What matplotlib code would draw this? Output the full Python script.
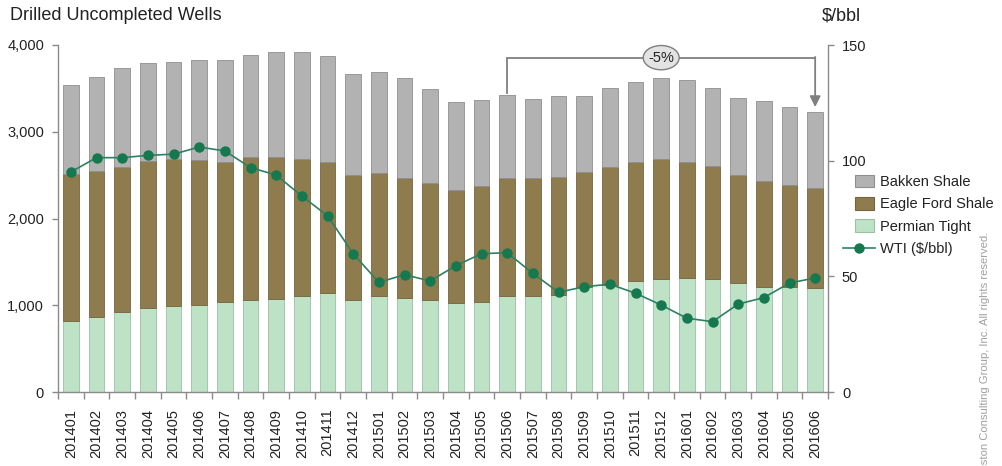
import matplotlib
matplotlib.use("Agg")
import matplotlib.pyplot as plt
from matplotlib.patches import Patch, Rectangle, Ellipse
from matplotlib.lines import Line2D
from matplotlib.legend_handler import HandlerPatch
import numpy as np

plt.rcParams['font.family'] = ['Liberation Sans', 'DejaVu Sans']

months = ["201401", "201402", "201403", "201404", "201405", "201406", "201407", "201408",
          "201409", "201410", "201411", "201412", "201501", "201502", "201503", "201504",
          "201505", "201506", "201507", "201508", "201509", "201510", "201511", "201512",
          "201601", "201602", "201603", "201604", "201605", "201606"]

permian = [822, 861, 926, 964, 987, 1003, 1037, 1057, 1076, 1103, 1138, 1064, 1103, 1087,
           1057, 1026, 1041, 1107, 1107, 1118, 1214, 1233, 1283, 1303, 1318, 1303, 1260,
           1214, 1214, 1195]
eagle_ford = [1691, 1687, 1668, 1699, 1695, 1668, 1611, 1652, 1633, 1579, 1510, 1434, 1418,
              1380, 1352, 1306, 1337, 1360, 1360, 1364, 1318, 1364, 1365, 1379, 1330, 1306,
              1238, 1218, 1168, 1160]
bakken = [1026, 1080, 1137, 1133, 1126, 1156, 1179, 1176, 1210, 1237, 1222, 1168, 1171, 1149,
          1080, 1008, 988, 957, 911, 934, 884, 907, 922, 938, 945, 895, 891, 922, 909, 875]
wti = [95.1, 101.3, 101.3, 102.3, 102.8, 105.9, 104.2, 97.0, 93.8, 84.7, 76.2, 59.8, 47.4,
       50.7, 48.0, 54.6, 59.8, 60.2, 51.3, 43.1, 45.5, 46.6, 42.7, 37.6, 31.9, 30.4, 38.0,
       40.8, 47.1, 49.3]

change_label = "-5%"
left_ticks = [0, 1000, 2000, 3000, 4000]
right_ticks = [0, 50, 100, 150]

c_bakken = '#b2b2b2'
c_eagle = '#8e7c4e'
c_perm = '#bde2c6'
c_line = '#2f8062'
c_marker = '#15784f'
c_axis = '#8a8a8a'
c_text = '#222222'

fig = plt.figure(figsize=(10.03, 4.66), dpi=100)
ax = fig.add_axes([58/1003, 1-392/466, (828-58)/1003, (392-45)/466])
x = np.arange(len(months))
w = 0.62
p = np.array(permian)
e = np.array(eagle_ford)
b = np.array(bakken)
ax.bar(x, p, w, color=c_perm, edgecolor='#9cc0a4', linewidth=0.6, zorder=2)
ax.bar(x, e, w, bottom=p, color=c_eagle, edgecolor='#75653c', linewidth=0.6, zorder=2)
ax.bar(x, b, w, bottom=p + e, color=c_bakken, edgecolor='#8f8f8f', linewidth=0.6, zorder=2)

ax.set_xlim(-0.5, len(months) - 0.5)
ax.set_ylim(0, 4000)
ax.set_yticks(left_ticks)
ax.set_yticklabels([f"{v:,}" for v in left_ticks], fontsize=10.5, color=c_text)
ax.set_xticks(x)
ax.set_xticklabels(months, rotation=90, fontsize=10.5, color=c_text)
ax.set_xticks(np.arange(-0.5, len(months), 1.0), minor=True)
ax.tick_params(axis='x', which='major', length=0, pad=12)
ax.tick_params(axis='x', which='minor', length=5, color=c_axis, width=1)
ax.tick_params(axis='y', length=4, color=c_axis, width=1, pad=6)
for s in ['top', 'right']:
    ax.spines[s].set_visible(False)
for s in ['left', 'bottom']:
    ax.spines[s].set_color(c_axis)
    ax.spines[s].set_linewidth(1.0)

ax2 = ax.twinx()
ax2.plot(x, wti, color=c_line, linewidth=1.2, marker='o', markersize=6.5,
         markerfacecolor=c_marker, markeredgecolor=c_marker, zorder=5)
ax2.set_ylim(0, 150)
ax2.set_yticks(right_ticks)
ax2.set_yticklabels([str(v) for v in right_ticks], fontsize=10.5, color=c_text)
ax2.tick_params(axis='y', length=4, color=c_axis, width=1, pad=6)
for s in ['top', 'left', 'bottom']:
    ax2.spines[s].set_visible(False)
ax2.spines['right'].set_color(c_axis)
ax2.spines['right'].set_linewidth(1.0)

# bracket annotation
totals = p + e + b
i0, i1 = 17, 29
top_y = 3854
ax.plot([i0, i0, i1], [totals[i0] + 25, top_y, top_y], color='#7f7f7f', lw=1.3,
        zorder=4, solid_joinstyle='miter', clip_on=False)
ax.annotate('', xy=(i1, totals[i1] + 55), xytext=(i1, top_y + 8),
            arrowprops=dict(arrowstyle='-|>', color='#7f7f7f', lw=1.3, mutation_scale=16,
                            shrinkA=0, shrinkB=0), zorder=4, annotation_clip=False)
mid = (i0 + i1) / 2
ax.add_patch(Ellipse((mid, top_y), 1.4, 280, facecolor='#e3e3e3', edgecolor='#7f7f7f',
                     lw=1.0, zorder=6, clip_on=False))
ax.text(mid, top_y, change_label, ha='center', va='center', fontsize=10.5, color=c_text,
        zorder=7)

fig.text(10/1003, 1-16/466, "Drilled Uncompleted Wells", fontsize=13, color=c_text,
         ha='left', va='center')
fig.text(841/1003, 1-16/466, "$/bbl", fontsize=13, color=c_text, ha='center', va='center')

fig.text(985/1003, 1-232/466, "Boston Consulting Group, Inc. All rights reserved.",
         rotation=90, fontsize=8.1, color='#a0a0a0', ha='center', va='top')


class SmallPatch(HandlerPatch):
    def create_artists(self, legend, orig_handle, xdescent, ydescent, width, height,
                       fontsize, trans):
        rw = width * 0.6
        rh = height * 1.25
        r = Rectangle((-xdescent + width * 0.36, -ydescent + (height - rh) / 2), rw, rh,
                      facecolor=orig_handle.get_facecolor(),
                      edgecolor=orig_handle.get_edgecolor(), lw=0.8, transform=trans)
        return [r]


handles = [Patch(facecolor=c_bakken, edgecolor='#8f8f8f', label='Bakken Shale'),
           Patch(facecolor=c_eagle, edgecolor='#75653c', label='Eagle Ford Shale'),
           Patch(facecolor=c_perm, edgecolor='#9cc0a4', label='Permian Tight'),
           Line2D([], [], color=c_line, lw=1.2, marker='o', markersize=6.5,
                  markerfacecolor=c_marker, markeredgecolor=c_marker, label='WTI ($/bbl)')]
leg = fig.legend(handles=handles, loc='upper left',
                 bbox_to_anchor=(843/1003, 1-175/466), frameon=False, fontsize=10.5,
                 handlelength=2.2, handletextpad=0.35, labelspacing=0.58,
                 borderaxespad=0, borderpad=0,
                 handler_map={Patch: SmallPatch()})
for t in leg.get_texts():
    t.set_color(c_text)

fig.savefig('out.png', dpi=100)
